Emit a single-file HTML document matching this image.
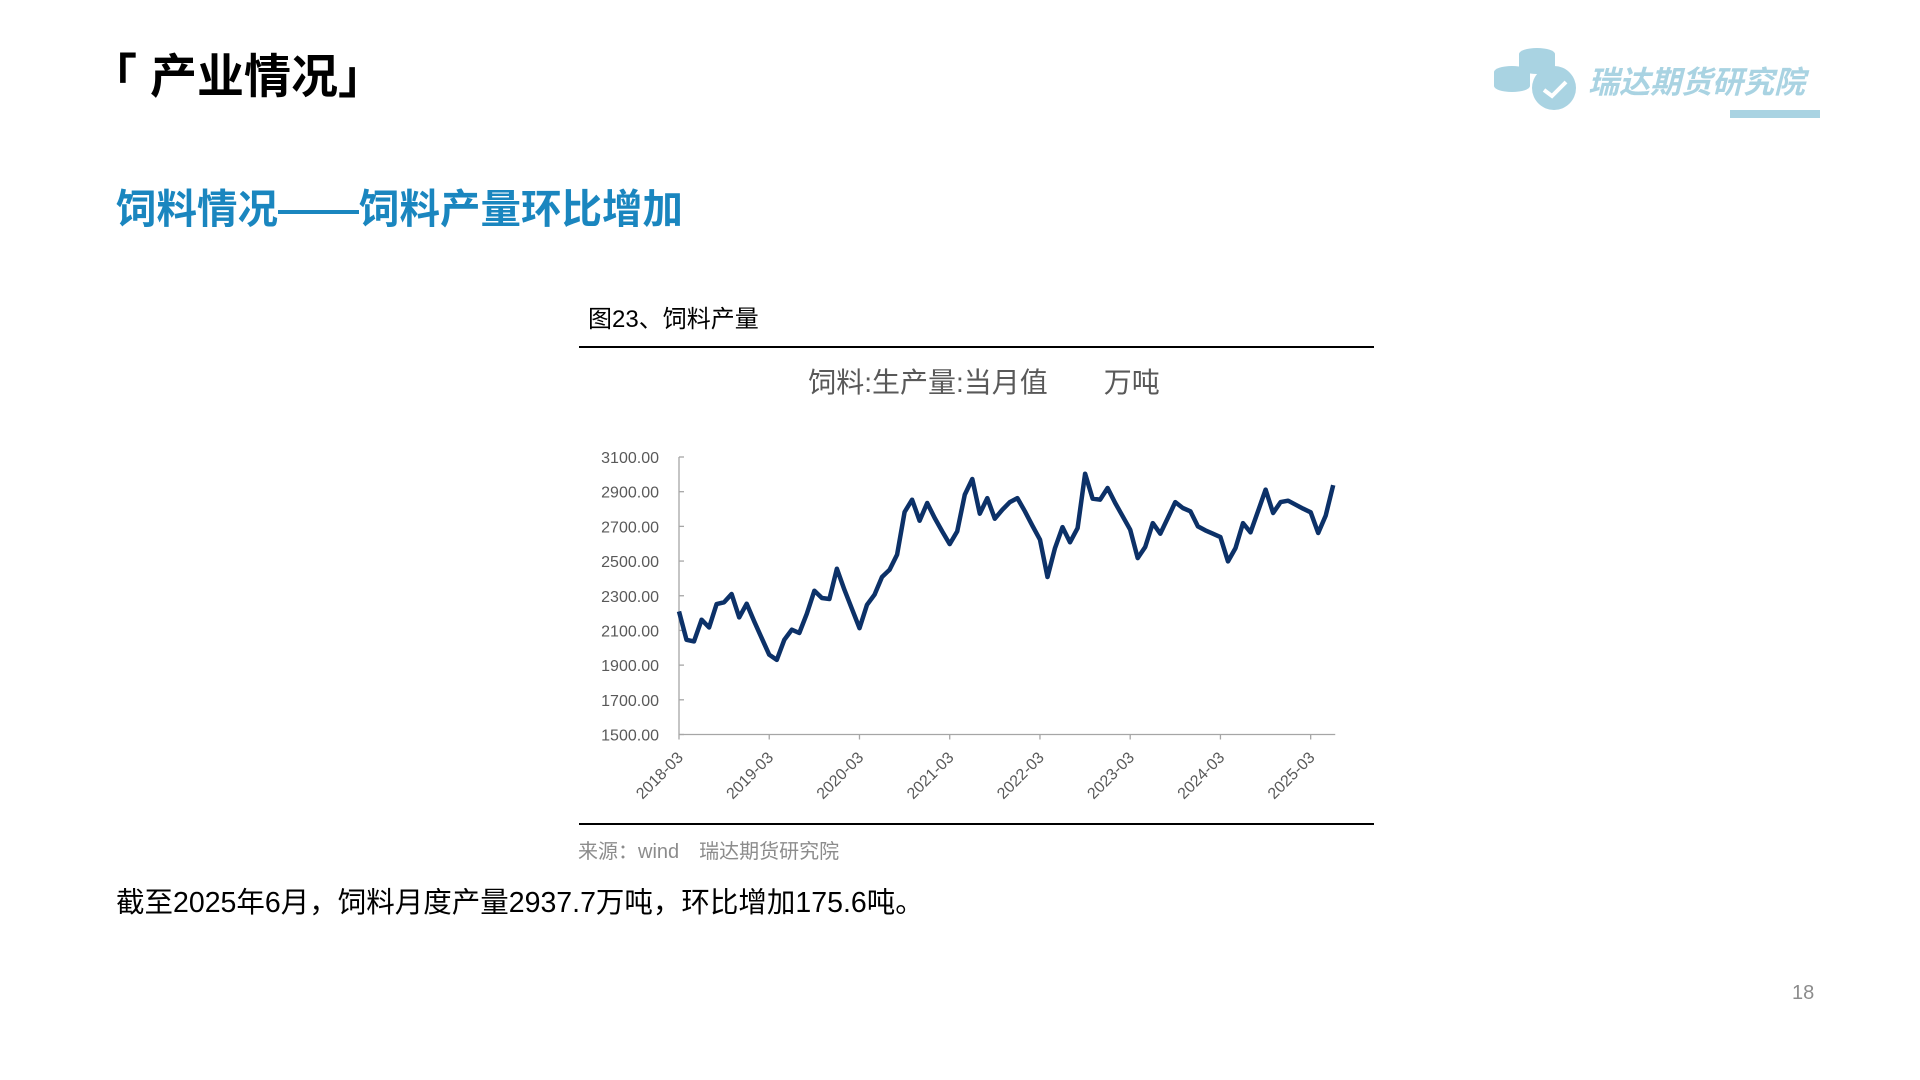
<!DOCTYPE html>
<html><head><meta charset="utf-8">
<style>
html,body{margin:0;padding:0;background:#fff;}
body{width:1920px;height:1080px;position:relative;overflow:hidden;font-family:"Liberation Sans","Noto Sans CJK SC",sans-serif;}
.abs{position:absolute;white-space:nowrap;}
</style></head>
<body>
<div class="abs" style="left:90px;top:38px;font-size:47px;font-weight:bold;color:#000;">「 产业情况」</div>
<div class="abs" style="left:116px;top:176px;font-size:40.5px;font-weight:bold;color:#1a86bf;">饲料情况——饲料产量环比增加</div>

<svg class="abs" style="left:1490px;top:38px" width="340" height="84" viewBox="0 0 340 84">
  <g fill="#a9d3e2">
    <ellipse cx="47" cy="16" rx="18" ry="6"/><rect x="29" y="16" width="36" height="14"/><ellipse cx="47" cy="30" rx="18" ry="6"/>
    <ellipse cx="22" cy="34" rx="18" ry="6"/><rect x="4" y="34" width="36" height="14"/><ellipse cx="22" cy="48" rx="18" ry="6"/>
    <circle cx="64" cy="50" r="22"/>
  </g>
  <path d="M54 52 L62 58 L76 44" stroke="#fff" stroke-width="4" fill="none"/>
  <text x="98" y="55" font-size="31" font-weight="bold" font-style="italic" fill="#a9d3e2" font-family="'Noto Sans CJK SC',sans-serif">瑞达期货研究院</text>
  <rect x="240" y="72" width="90" height="8" fill="#a9d3e2"/>
</svg>

<div class="abs" style="left:588px;top:299px;font-size:24px;color:#000;">图23、饲料产量</div>
<div class="abs" style="left:579px;top:346px;width:795px;height:2px;background:#000;"></div>
<div class="abs" style="left:0;width:1968px;text-align:center;top:361px;font-size:28px;color:#595959;">饲料:生产量:当月值　　万吨</div>

<svg id="chart" class="abs" style="left:0;top:0" width="1920" height="1080"></svg>

<div class="abs" style="left:579px;top:823px;width:795px;height:2px;background:#000;"></div>
<div class="abs" style="left:578px;top:835px;font-size:20px;color:#8c8c8c;">来源：wind　瑞达期货研究院</div>
<div class="abs" style="left:116px;top:880px;font-size:28.5px;color:#000;">截至2025年6月，饲料月度产量2937.7万吨，环比增加175.6吨。</div>
<div class="abs" style="left:1792px;top:982px;font-size:20px;color:#8c8c8c;">18</div>

<script>
const values=[2210,2046,2037,2162,2117,2252,2262,2310,2175,2254,2152,2056,1960,1930,2046,2104,2085,2196,2329,2287,2281,2456,2335,2223,2113,2248,2306,2408,2450,2537,2783,2854,2733,2835,2748,2671,2598,2671,2883,2973,2773,2863,2744,2796,2840,2863,2787,2704,2623,2408,2575,2696,2608,2690,3004,2860,2854,2921,2835,2758,2681,2517,2581,2719,2658,2748,2840,2806,2787,2700,2677,2658,2638,2498,2575,2719,2665,2787,2912,2777,2840,2848,2825,2802,2781,2662,2762,2938];
const yTicks=[1500,1700,1900,2100,2300,2500,2700,2900,3100];
const xLabels=["2018-03","2019-03","2020-03","2021-03","2022-03","2023-03","2024-03","2025-03"];
const xLabelIdx=[0,12,24,36,48,60,72,84];

const NS="http://www.w3.org/2000/svg";
const svg=document.getElementById('chart');
const x0=679,dx=7.52,yTop=457,yBot=734.5,vMin=1500,vMax=3100;
const X=i=>x0+i*dx;
const Y=v=>yBot-(v-vMin)/(vMax-vMin)*(yBot-yTop);
function mk(t,a){const e=document.createElementNS(NS,t);for(const k in a)e.setAttribute(k,a[k]);svg.appendChild(e);return e;}

const ya=mk('line',{x1:x0,y1:yTop,x2:x0,y2:yBot,stroke:'#a6a6a6','stroke-width':1.3});


const xEnd=X(values.length-1)+2;
const xa=mk('line',{x1:x0,y1:yBot,x2:xEnd,y2:yBot,stroke:'#a6a6a6','stroke-width':1.3});



yTicks.forEach(v=>{
  const tk=mk('line',{x1:x0,y1:Y(v),x2:x0+5,y2:Y(v),stroke:'#a6a6a6','stroke-width':1.3});
  
  
  const t=mk('text',{x:x0-20,y:Y(v)+6,'text-anchor':'end','font-size':16,fill:'#595959','font-family':'Liberation Sans, sans-serif'});
  t.textContent=v.toFixed(2);
  
  
});
xLabelIdx.forEach((idx,k)=>{
  const x=X(idx);
  const tk=mk('line',{x1:x,y1:yBot,x2:x,y2:yBot+5,stroke:'#a6a6a6','stroke-width':1.3});
  
  
  const t=mk('text',{x:x+5,y:yBot+24,'text-anchor':'end','font-size':16,fill:'#595959','font-family':'Liberation Sans, sans-serif',transform:`rotate(-45 ${x+5} ${yBot+24})`});
  t.textContent=xLabels[k];
  
  
});
const pl=mk('polyline',{points:values.map((v,i)=>X(i).toFixed(1)+','+Y(v).toFixed(1)).join(' '),fill:'none',stroke:'#0c3168','stroke-width':4.5,'stroke-linejoin':'round'});


</script>
</body></html>
